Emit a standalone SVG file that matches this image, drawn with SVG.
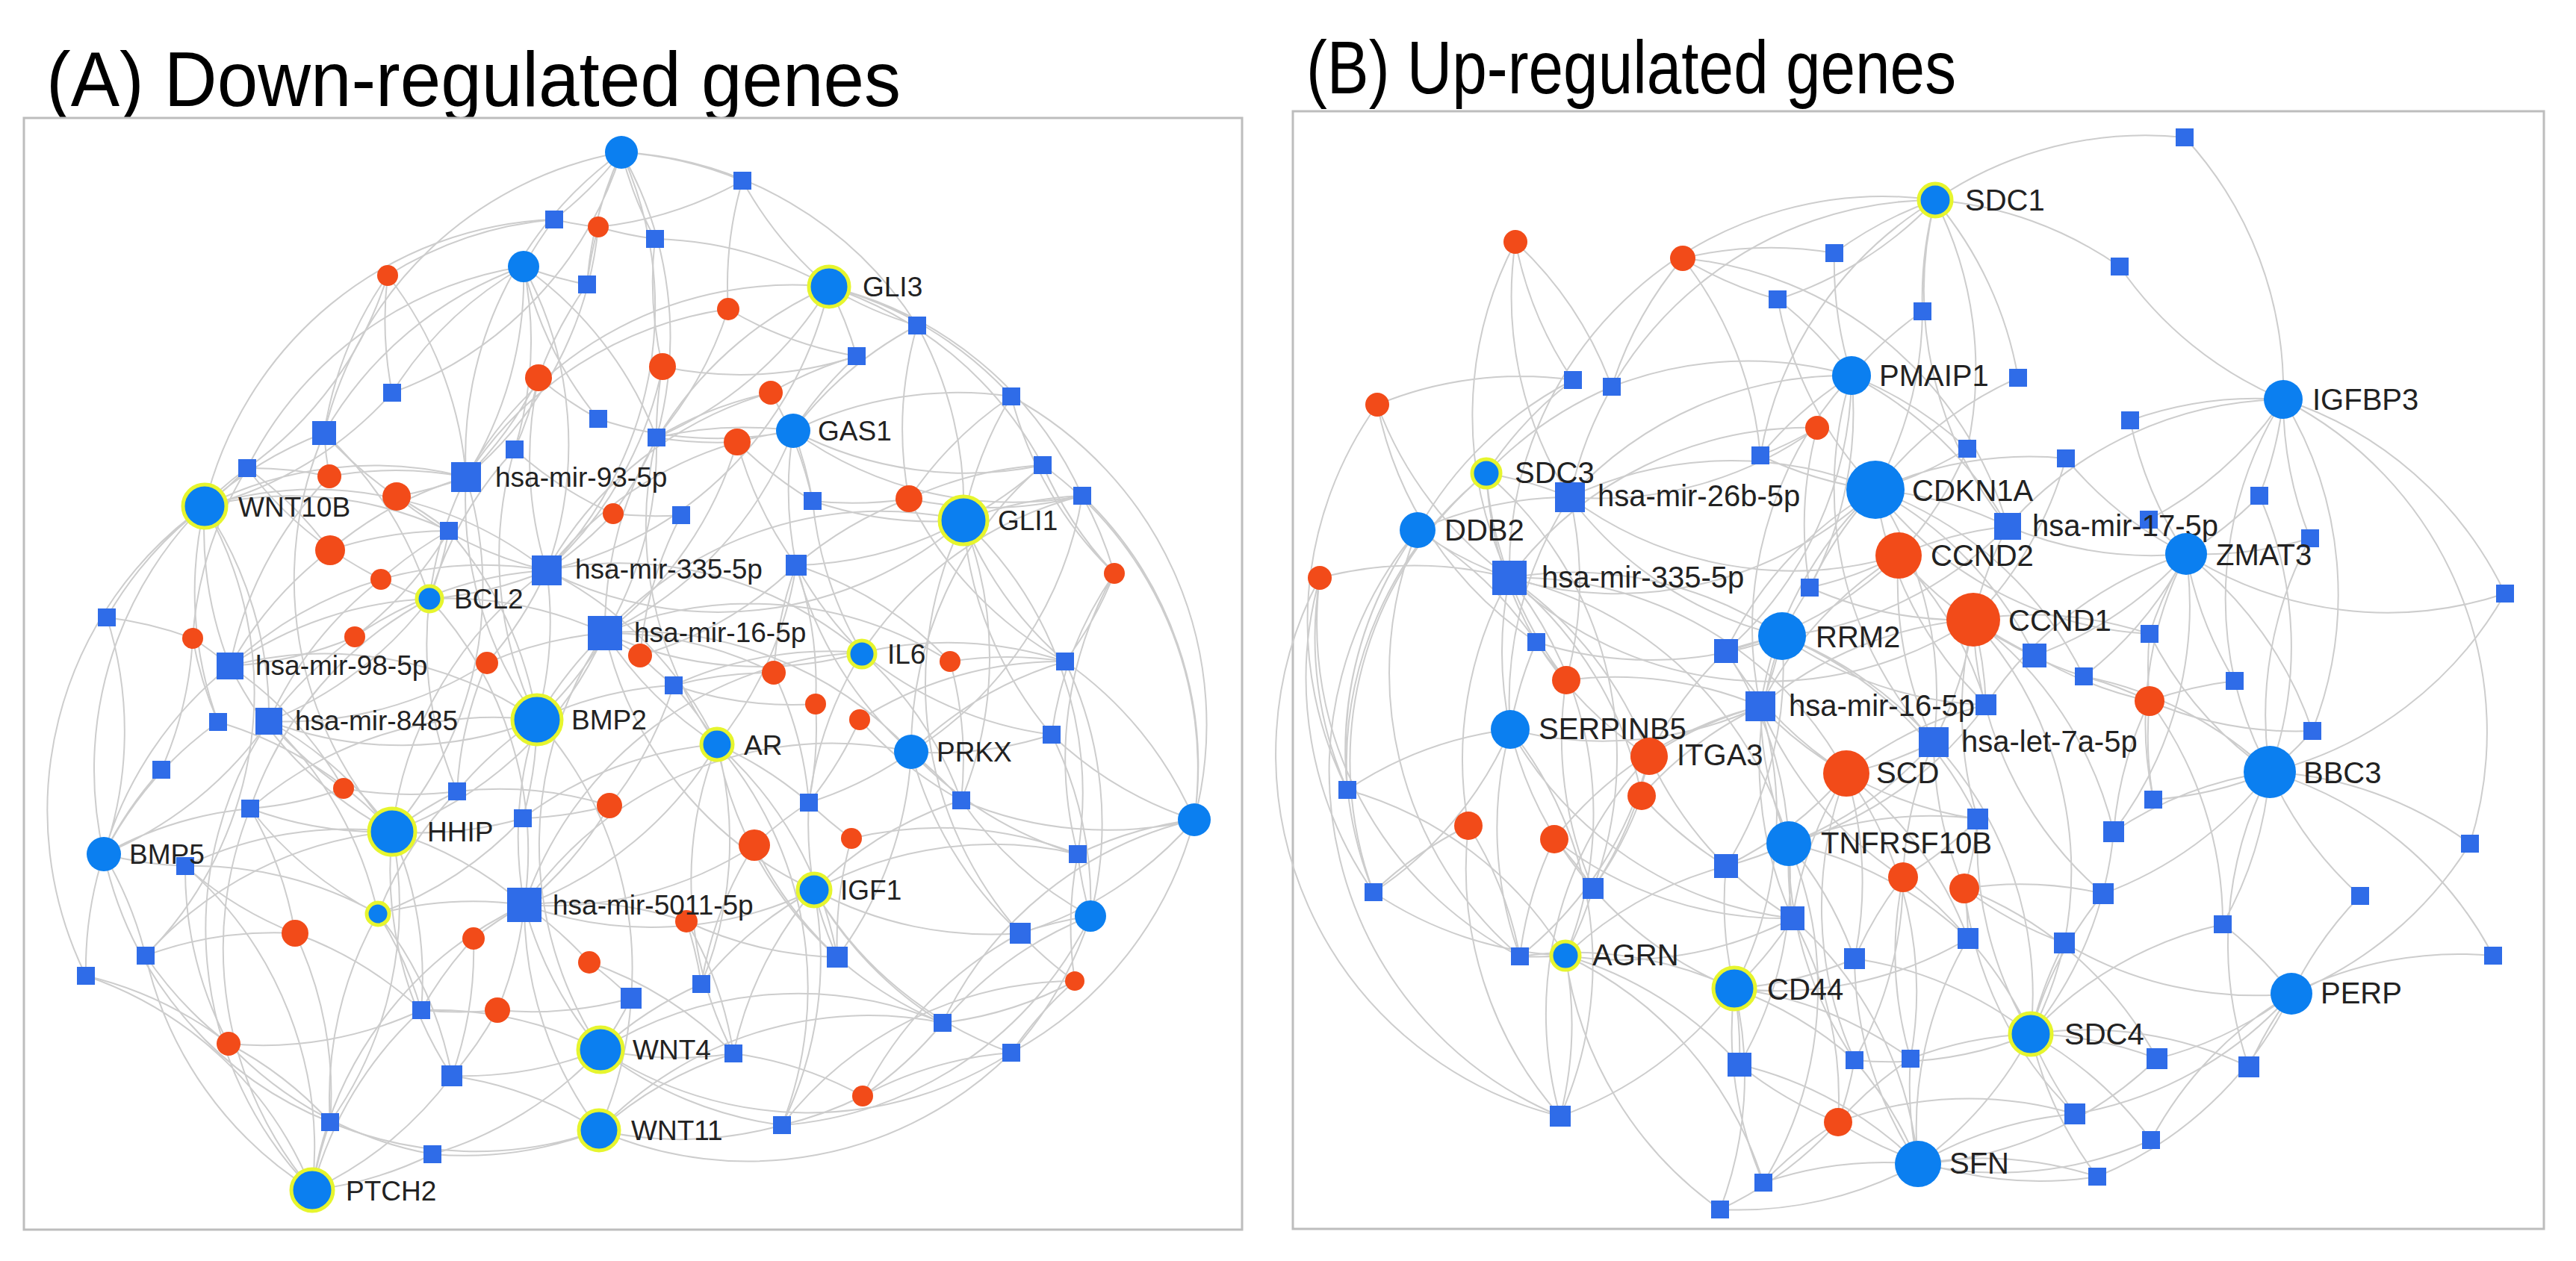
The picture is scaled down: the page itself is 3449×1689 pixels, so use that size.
<svg xmlns="http://www.w3.org/2000/svg" xmlns:xlink="http://www.w3.org/1999/xlink" width="3449" height="1689" viewBox="0 0 3449 1689">
<style>
.tt{font-family:"Liberation Sans",Arial,sans-serif;fill:#000}
.la{font-family:"Liberation Sans",Arial,sans-serif;font-size:37px;fill:#222}
.lb{font-family:"Liberation Sans",Arial,sans-serif;font-size:40px;fill:#222}
.box{fill:#fff;stroke:#bdbdbd;stroke-width:3}
.ed path{fill:none;stroke:#cdcdcd;stroke-width:2}
.bc{fill:#0b7ff0}
.rc{fill:#f24b19}
.yr{stroke:#e6f52e;stroke-width:5}
</style>
<defs>
<rect id="q24" x="-12" y="-12" width="24" height="24" fill="#2f6ce8"/>
<rect id="q28" x="-14" y="-14" width="28" height="28" fill="#2f6ce8"/>
<rect id="q32" x="-16" y="-16" width="32" height="32" fill="#2f6ce8"/>
<rect id="q36" x="-18" y="-18" width="36" height="36" fill="#2f6ce8"/>
<rect id="q40" x="-20" y="-20" width="40" height="40" fill="#2f6ce8"/>
<rect id="q46" x="-23" y="-23" width="46" height="46" fill="#2f6ce8"/>
</defs>
<rect width="3449" height="1689" fill="#fff"/>
<text class="tt" x="62" y="142" font-size="104" textLength="1144" lengthAdjust="spacingAndGlyphs">(A) Down-regulated genes</text>
<text class="tt" x="1749" y="125" font-size="100" textLength="870" lengthAdjust="spacingAndGlyphs">(B) Up-regulated genes</text>
<rect class="box" x="32" y="158" width="1631" height="1489"/>
<rect class="box" x="1731" y="149" width="1675" height="1497"/>

<g id="edges-A" class="ed">
<path d="M1110 384A500 500 0 0 1 994 242M1110 384A500 500 0 0 0 1228 436M1110 384A500 500 0 0 1 1147 477M1110 384A500 500 0 0 0 624 639M1110 384A500 500 0 0 1 732 764M1110 384A500 500 0 0 0 877 320M1110 384A500 500 0 0 1 1354 531M1110 384A500 500 0 0 0 810 848M1110 384A500 500 0 0 1 879 586M1110 384A500 500 0 0 1 1396 623M1110 384A500 500 0 0 1 1449 664"/>
<path d="M1062 577A500 500 0 0 1 1147 477M1062 577A500 500 0 0 0 879 586M1062 577A500 500 0 0 1 1088 671M1062 577A500 500 0 0 0 732 764M1062 577A500 500 0 0 1 810 848M1062 577A500 500 0 0 0 1066 757M1062 577A500 500 0 0 1 1228 436M1062 577A500 500 0 0 0 1449 664M1062 577A500 500 0 0 1 801 561M1062 577A500 500 0 0 1 1354 531M1062 577A500 500 0 0 0 1396 623"/>
<path d="M274 678A500 500 0 0 1 624 639M274 678A500 500 0 0 0 308 892M274 678A500 500 0 0 1 360 966M274 678A500 500 0 0 0 331 627M274 678A500 500 0 0 1 434 580M274 678A500 500 0 0 0 143 827M274 678A500 500 0 0 1 732 764M274 678A500 500 0 0 0 525 526M274 678A500 500 0 0 1 601 711M274 678A500 500 0 0 0 115 1307M274 678A500 500 0 0 1 195 1280M274 678A500 500 0 0 1 742 294M274 678A500 500 0 0 0 292 967"/>
<path d="M1290 697A500 500 0 0 1 1354 531M1290 697A500 500 0 0 0 1396 623M1290 697A500 500 0 0 1 1449 664M1290 697A500 500 0 0 0 1228 436M1290 697A500 500 0 0 1 1066 757M1290 697A500 500 0 0 0 810 848M1290 697A500 500 0 0 1 732 764M1290 697A500 500 0 0 0 1426 886M1290 697A500 500 0 0 1 1287 1072M1290 697A500 500 0 0 0 1408 984M1290 697A500 500 0 0 1 1088 671M1290 697A500 500 0 0 1 1443 1144M1290 697A500 500 0 0 0 1366 1250"/>
<path d="M575 802A500 500 0 0 1 624 639M575 802A500 500 0 0 0 732 764M575 802A500 500 0 0 1 810 848M575 802A500 500 0 0 0 308 892M575 802A500 500 0 0 1 360 966M575 802A500 500 0 0 0 601 711M575 802A500 500 0 0 1 689 602M575 802A500 500 0 0 0 434 580M575 802A500 500 0 0 1 702 1212M575 802A500 500 0 0 0 612 1060M575 802A500 500 0 0 1 331 627M575 802A500 500 0 0 0 335 1083"/>
<path d="M1154 874A500 500 0 0 1 810 848M1154 874A500 500 0 0 0 732 764M1154 874A500 500 0 0 1 1066 757M1154 874A500 500 0 0 0 902 918M1154 874A500 500 0 0 1 1426 886M1154 874A500 500 0 0 0 1083 1075M1154 874A500 500 0 0 1 1287 1072M1154 874A500 500 0 0 0 702 1212M1154 874A500 500 0 0 1 1088 671M1154 874A500 500 0 0 1 1449 664M1154 874A500 500 0 0 0 1408 984"/>
<path d="M719 964A500 500 0 0 1 810 848M719 964A500 500 0 0 0 732 764M719 964A500 500 0 0 1 624 639M719 964A500 500 0 0 0 308 892M719 964A500 500 0 0 1 360 966M719 964A500 500 0 0 0 702 1212M719 964A500 500 0 0 1 902 918M719 964A500 500 0 0 0 612 1060M719 964A500 500 0 0 1 700 1096M719 964A500 500 0 0 0 601 711M719 964A500 500 0 0 1 689 602M719 964A500 500 0 0 0 879 586M719 964A500 500 0 0 1 845 1337M719 964A500 500 0 0 0 335 1083"/>
<path d="M960 997A500 500 0 0 1 810 848M960 997A500 500 0 0 0 732 764M960 997A500 500 0 0 1 702 1212M960 997A500 500 0 0 0 902 918M960 997A500 500 0 0 1 1083 1075M960 997A500 500 0 0 0 1066 757M960 997A500 500 0 0 1 939 1318M960 997A500 500 0 0 0 982 1411M960 997A500 500 0 0 1 1121 1282M960 997A500 500 0 0 0 700 1096M960 997A500 500 0 0 1 879 586M960 997A500 500 0 0 0 1262 1370M960 997A500 500 0 0 1 1047 1507"/>
<path d="M1220 1007A500 500 0 0 1 1426 886M1220 1007A500 500 0 0 0 1408 984M1220 1007A500 500 0 0 1 1287 1072M1220 1007A500 500 0 0 0 1443 1144M1220 1007A500 500 0 0 1 1083 1075M1220 1007A500 500 0 0 0 810 848M1220 1007A500 500 0 0 1 1066 757M1220 1007A500 500 0 0 0 1366 1250M1220 1007A500 500 0 0 1 1121 1282M1220 1007A500 500 0 0 0 702 1212M1220 1007A500 500 0 0 1 1396 623M1220 1007A500 500 0 0 0 1449 664"/>
<path d="M525 1114A500 500 0 0 1 702 1212M525 1114A500 500 0 0 0 360 966M525 1114A500 500 0 0 1 308 892M525 1114A500 500 0 0 0 810 848M525 1114A500 500 0 0 1 732 764M525 1114A500 500 0 0 0 624 639M525 1114A500 500 0 0 1 335 1083M525 1114A500 500 0 0 0 700 1096M525 1114A500 500 0 0 1 612 1060M525 1114A500 500 0 0 0 248 1160M525 1114A500 500 0 0 1 564 1353M525 1114A500 500 0 0 0 605 1441M525 1114A500 500 0 0 1 434 580M525 1114A500 500 0 0 0 292 967M525 1114A500 500 0 0 1 442 1503M525 1114A500 500 0 0 0 195 1280"/>
<path d="M139 1144A500 500 0 0 1 216 1031M139 1144A500 500 0 0 0 143 827M139 1144A500 500 0 0 1 292 967M139 1144A500 500 0 0 0 248 1160M139 1144A500 500 0 0 1 195 1280M139 1144A500 500 0 0 0 115 1307M139 1144A500 500 0 0 1 308 892M139 1144A500 500 0 0 0 360 966M139 1144A500 500 0 0 1 335 1083M139 1144A500 500 0 0 0 442 1503M139 1144A500 500 0 0 1 331 627"/>
<path d="M1090 1192A500 500 0 0 1 702 1212M1090 1192A500 500 0 0 0 1121 1282M1090 1192A500 500 0 0 1 1083 1075M1090 1192A500 500 0 0 0 939 1318M1090 1192A500 500 0 0 1 1047 1507M1090 1192A500 500 0 0 0 982 1411M1090 1192A500 500 0 0 1 810 848M1090 1192A500 500 0 0 0 1366 1250M1090 1192A500 500 0 0 1 1287 1072M1090 1192A500 500 0 0 0 1262 1370M1090 1192A500 500 0 0 1 1443 1144M1090 1192A500 500 0 0 0 1354 1410"/>
<path d="M804 1406A500 500 0 0 1 702 1212M804 1406A500 500 0 0 0 845 1337M804 1406A500 500 0 0 1 605 1441M804 1406A500 500 0 0 0 982 1411M804 1406A500 500 0 0 1 939 1318M804 1406A500 500 0 0 0 1047 1507M804 1406A500 500 0 0 1 579 1546M804 1406A500 500 0 0 0 564 1353M804 1406A500 500 0 0 1 810 848M804 1406A500 500 0 0 0 1354 1410M804 1406A500 500 0 0 1 1262 1370"/>
<path d="M802 1514A500 500 0 0 1 442 1503M802 1514A500 500 0 0 0 1047 1507M802 1514A500 500 0 0 1 579 1546M802 1514A500 500 0 0 0 605 1441M802 1514A500 500 0 0 1 702 1212M802 1514A500 500 0 0 0 1354 1410M802 1514A500 500 0 0 1 1262 1370M802 1514A500 500 0 0 0 845 1337M802 1514A500 500 0 0 1 982 1411"/>
<path d="M418 1594A500 500 0 0 1 442 1503M418 1594A500 500 0 0 0 579 1546M418 1594A500 500 0 0 1 195 1280M418 1594A500 500 0 0 0 115 1307M418 1594A500 500 0 0 1 702 1212M418 1594A500 500 0 0 0 605 1441M418 1594A500 500 0 0 1 564 1353M418 1594A500 500 0 0 0 248 1160M418 1594A500 500 0 0 1 360 966M418 1594A500 500 0 0 1 335 1083"/>
<path d="M832 204A500 500 0 0 1 742 294M832 204A500 500 0 0 0 877 320M832 204A500 500 0 0 1 994 242M832 204A500 500 0 0 0 624 639M832 204A500 500 0 0 1 732 764M832 204A500 500 0 0 0 786 381M832 204A500 500 0 0 1 525 526M832 204A500 500 0 0 0 434 580M832 204A500 500 0 0 1 1228 436M832 204A500 500 0 0 1 879 586"/>
<path d="M701 357A500 500 0 0 1 742 294M701 357A500 500 0 0 0 786 381M701 357A500 500 0 0 1 624 639M701 357A500 500 0 0 0 525 526M701 357A500 500 0 0 1 689 602M701 357A500 500 0 0 0 801 561M701 357A500 500 0 0 1 879 586M701 357A500 500 0 0 0 331 627M701 357A500 500 0 0 1 732 764M701 357A500 500 0 0 0 434 580"/>
<path d="M1599 1098A500 500 0 0 0 1396 623M1599 1098A500 500 0 0 0 1449 664M1599 1098A500 500 0 0 1 1408 984M1599 1098A500 500 0 0 0 1443 1144M1599 1098A500 500 0 0 1 1366 1250M1599 1098A500 500 0 0 0 1426 886M1599 1098A500 500 0 0 0 1354 531M1599 1098A500 500 0 0 1 1287 1072M1599 1098A500 500 0 0 1 1354 1410M1599 1098A500 500 0 0 0 1262 1370"/>
<path d="M1460 1227A500 500 0 0 1 1443 1144M1460 1227A500 500 0 0 0 1366 1250M1460 1227A500 500 0 0 1 1354 1410M1460 1227A500 500 0 0 0 1262 1370M1460 1227A500 500 0 0 1 1287 1072M1460 1227A500 500 0 0 0 1426 886M1460 1227A500 500 0 0 0 1408 984M1460 1227A500 500 0 0 1 1047 1507"/>
<path d="M506 1224A500 500 0 0 1 702 1212M506 1224A500 500 0 0 0 700 1096M506 1224A500 500 0 0 1 564 1353M506 1224A500 500 0 0 0 248 1160M506 1224A500 500 0 0 1 335 1083M506 1224A500 500 0 0 0 360 966M506 1224A500 500 0 0 1 612 1060M506 1224A500 500 0 0 0 442 1503M506 1224A500 500 0 0 1 605 1441"/>
<path d="M801 304A500 500 0 0 1 742 294M801 304A500 500 0 0 0 877 320M801 304A500 500 0 0 1 624 639M801 304A500 500 0 0 0 786 381M801 304A500 500 0 0 0 994 242M519 369A500 500 0 0 1 742 294M519 369A500 500 0 0 0 525 526M519 369A500 500 0 0 1 624 639M519 369A500 500 0 0 0 434 580M519 369A500 500 0 0 1 331 627M721 506A500 500 0 0 1 786 381M721 506A500 500 0 0 0 801 561M721 506A500 500 0 0 1 624 639M721 506A500 500 0 0 0 732 764M721 506A500 500 0 0 1 689 602M887 491A500 500 0 0 1 877 320M887 491A500 500 0 0 0 1147 477M887 491A500 500 0 0 1 732 764M887 491A500 500 0 0 0 879 586M975 414A500 500 0 0 1 994 242M975 414A500 500 0 0 0 1147 477M975 414A500 500 0 0 1 879 586M975 414A500 500 0 0 0 624 639"/>
<path d="M1032 526A500 500 0 0 1 1147 477M1032 526A500 500 0 0 0 879 586M1032 526A500 500 0 0 1 1088 671M1032 526A500 500 0 0 0 732 764M987 592A500 500 0 0 1 879 586M987 592A500 500 0 0 0 1088 671M987 592A500 500 0 0 1 810 848M987 592A500 500 0 0 0 1066 757M441 638A500 500 0 0 1 434 580M441 638A500 500 0 0 0 331 627M441 638A500 500 0 0 1 624 639M441 638A500 500 0 0 0 308 892M531 665A500 500 0 0 1 434 580M531 665A500 500 0 0 0 624 639M531 665A500 500 0 0 1 601 711M531 665A500 500 0 0 0 732 764"/>
<path d="M1217 668A500 500 0 0 1 1088 671M1217 668A500 500 0 0 0 1449 664M1217 668A500 500 0 0 1 1396 623M1217 668A500 500 0 0 0 1066 757M1217 668A500 500 0 0 1 1354 531M1217 668A500 500 0 0 0 1426 886M1217 668A500 500 0 0 1 1228 436M821 688A500 500 0 0 1 689 602M821 688A500 500 0 0 0 912 690M821 688A500 500 0 0 1 732 764M821 688A500 500 0 0 0 879 586M442 737A500 500 0 0 1 624 639M442 737A500 500 0 0 0 308 892M442 737A500 500 0 0 1 601 711M442 737A500 500 0 0 0 331 627M510 776A500 500 0 0 1 732 764M510 776A500 500 0 0 0 308 892M510 776A500 500 0 0 1 601 711M510 776A500 500 0 0 0 360 966"/>
<path d="M1492 768A500 500 0 0 1 1396 623M1492 768A500 500 0 0 0 1449 664M1492 768A500 500 0 0 1 1426 886M1492 768A500 500 0 0 0 1408 984M1492 768A500 500 0 0 1 1354 531M1492 768A500 500 0 0 0 1443 1144M258 855A500 500 0 0 1 308 892M258 855A500 500 0 0 0 143 827M258 855A500 500 0 0 1 331 627M258 855A500 500 0 0 0 292 967M258 855A500 500 0 0 1 216 1031M475 853A500 500 0 0 1 308 892M475 853A500 500 0 0 0 360 966M475 853A500 500 0 0 1 732 764M475 853A500 500 0 0 0 601 711M652 888A500 500 0 0 1 810 848M652 888A500 500 0 0 0 732 764M652 888A500 500 0 0 1 360 966M652 888A500 500 0 0 0 612 1060"/>
<path d="M857 878A500 500 0 0 1 810 848M857 878A500 500 0 0 0 902 918M857 878A500 500 0 0 1 912 690M857 878A500 500 0 0 0 1066 757M1272 886A500 500 0 0 1 1426 886M1272 886A500 500 0 0 0 1066 757M1272 886A500 500 0 0 1 1287 1072M1272 886A500 500 0 0 0 810 848M1036 901A500 500 0 0 1 1066 757M1036 901A500 500 0 0 0 902 918M1036 901A500 500 0 0 1 1083 1075M1036 901A500 500 0 0 0 810 848M1092 943A500 500 0 0 1 1083 1075M1092 943A500 500 0 0 0 1066 757M1092 943A500 500 0 0 1 902 918M1151 964A500 500 0 0 1 1083 1075M1151 964A500 500 0 0 0 1287 1072M1151 964A500 500 0 0 1 1426 886"/>
<path d="M460 1056A500 500 0 0 1 360 966M460 1056A500 500 0 0 0 612 1060M460 1056A500 500 0 0 1 335 1083M460 1056A500 500 0 0 0 308 892M816 1079A500 500 0 0 1 700 1096M816 1079A500 500 0 0 0 902 918M816 1079A500 500 0 0 1 702 1212M816 1079A500 500 0 0 0 612 1060M1010 1132A500 500 0 0 1 1083 1075M1010 1132A500 500 0 0 0 1121 1282M1010 1132A500 500 0 0 1 702 1212M1010 1132A500 500 0 0 0 939 1318M1140 1123A500 500 0 0 1 1083 1075M1140 1123A500 500 0 0 0 1121 1282M1140 1123A500 500 0 0 1 1443 1144"/>
<path d="M395 1250A500 500 0 0 1 248 1160M395 1250A500 500 0 0 0 335 1083M395 1250A500 500 0 0 1 564 1353M395 1250A500 500 0 0 0 195 1280M395 1250A500 500 0 0 1 442 1503M634 1257A500 500 0 0 1 702 1212M634 1257A500 500 0 0 0 564 1353M634 1257A500 500 0 0 1 605 1441M919 1234A500 500 0 0 1 939 1318M919 1234A500 500 0 0 0 702 1212M919 1234A500 500 0 0 1 982 1411M919 1234A500 500 0 0 0 1121 1282M789 1289A500 500 0 0 1 845 1337M789 1289A500 500 0 0 0 702 1212M789 1289A500 500 0 0 1 982 1411"/>
<path d="M666 1353A500 500 0 0 1 564 1353M666 1353A500 500 0 0 0 845 1337M666 1353A500 500 0 0 1 605 1441M666 1353A500 500 0 0 0 702 1212M1439 1314A500 500 0 0 1 1366 1250M1439 1314A500 500 0 0 0 1354 1410M1439 1314A500 500 0 0 1 1262 1370M1439 1314A500 500 0 0 1 1443 1144M1439 1314A500 500 0 0 0 1047 1507M306 1398A500 500 0 0 1 195 1280M306 1398A500 500 0 0 0 115 1307M306 1398A500 500 0 0 1 442 1503M306 1398A500 500 0 0 0 564 1353M306 1398A500 500 0 0 1 248 1160M306 1398A500 500 0 0 0 579 1546M1155 1468A500 500 0 0 1 1047 1507M1155 1468A500 500 0 0 0 1262 1370M1155 1468A500 500 0 0 1 1354 1410M1155 1468A500 500 0 0 0 982 1411M1155 1468A500 500 0 0 1 1366 1250"/>
</g>

<g id="edges-B" class="ed">
<path d="M2591 268A500 500 0 0 1 2925 184M2591 268A500 500 0 0 0 2456 339M2591 268A500 500 0 0 1 2838 357M2591 268A500 500 0 0 0 2574 417M2591 268A500 500 0 0 1 2380 401M2591 268A500 500 0 0 0 2357 610M2591 268A500 500 0 0 1 2634 601M2591 268A500 500 0 0 0 2688 705M2591 268A500 500 0 0 1 2702 506M2591 268A500 500 0 0 0 2102 666M2591 268A500 500 0 0 0 2021 774"/>
<path d="M2479 503A500 500 0 0 1 2456 339M2479 503A500 500 0 0 0 2380 401M2479 503A500 500 0 0 1 2574 417M2479 503A500 500 0 0 0 2357 610M2479 503A500 500 0 0 1 2634 601M2479 503A500 500 0 0 0 2102 666M2479 503A500 500 0 0 1 2688 705M2479 503A500 500 0 0 0 2357 946M2479 503A500 500 0 0 1 2423 787M2479 503A500 500 0 0 0 2158 518M2479 503A500 500 0 0 1 2311 872M2479 503A500 500 0 0 0 2589 994"/>
<path d="M3057 535A500 500 0 0 0 2925 184M3057 535A500 500 0 0 1 2838 357M3057 535A500 500 0 0 0 2852 563M3057 535A500 500 0 0 1 3025 664M3057 535A500 500 0 0 0 3093 721M3057 535A500 500 0 0 1 3354 795M3057 535A500 500 0 0 0 2688 705M3057 535A500 500 0 0 1 2877 696M3057 535A500 500 0 0 1 3096 979M3057 535A500 500 0 0 0 2992 912M3057 535A500 500 0 0 1 3307 1130"/>
<path d="M1990 634A500 500 0 0 1 2102 666M1990 634A500 500 0 0 0 2021 774M1990 634A500 500 0 0 1 2106 509M1990 634A500 500 0 0 0 2057 860M1990 634A500 500 0 0 1 2158 518M1990 634A500 500 0 0 0 1804 1058M1990 634A500 500 0 0 0 1839 1195M1990 634A500 500 0 0 1 2133 1190"/>
<path d="M2511 656A500 500 0 0 1 2357 610M2511 656A500 500 0 0 0 2634 601M2511 656A500 500 0 0 1 2766 614M2511 656A500 500 0 0 0 2423 787M2511 656A500 500 0 0 1 2688 705M2511 656A500 500 0 0 0 2102 666M2511 656A500 500 0 0 1 2021 774M2511 656A500 500 0 0 0 2357 946M2511 656A500 500 0 0 1 2589 994M2511 656A500 500 0 0 0 2311 872M2511 656A500 500 0 0 1 2724 878M2511 656A500 500 0 0 0 2574 417M2511 656A500 500 0 0 1 2380 401M2511 656A500 500 0 0 0 2659 944M2511 656A500 500 0 0 1 2702 506M2511 656A500 500 0 0 1 2790 906M2511 656A500 500 0 0 0 2878 849"/>
<path d="M1898 710A500 500 0 0 1 2102 666M1898 710A500 500 0 0 0 2021 774M1898 710A500 500 0 0 1 2057 860M1898 710A500 500 0 0 0 1804 1058M1898 710A500 500 0 0 1 2106 509M1898 710A500 500 0 0 0 1839 1195M1898 710A500 500 0 0 0 2035 1281M1898 710A500 500 0 0 0 2089 1495"/>
<path d="M2927 742A500 500 0 0 1 2766 614M2927 742A500 500 0 0 0 3025 664M2927 742A500 500 0 0 1 2877 696M2927 742A500 500 0 0 0 3093 721M2927 742A500 500 0 0 1 2852 563M2927 742A500 500 0 0 0 2878 849M2927 742A500 500 0 0 1 2790 906M2927 742A500 500 0 0 0 2992 912M2927 742A500 500 0 0 1 2688 705M2927 742A500 500 0 0 0 3354 795M2927 742A500 500 0 0 1 3096 979M2927 742A500 500 0 0 0 2883 1071M2927 742A500 500 0 0 1 2724 878M2927 742A500 500 0 0 0 2659 944M2927 742A500 500 0 0 1 2830 1114"/>
<path d="M2386 852A500 500 0 0 1 2423 787M2386 852A500 500 0 0 0 2311 872M2386 852A500 500 0 0 1 2357 946M2386 852A500 500 0 0 0 2021 774M2386 852A500 500 0 0 1 2102 666M2386 852A500 500 0 0 0 2688 705M2386 852A500 500 0 0 1 2589 994M2386 852A500 500 0 0 0 2659 944M2386 852A500 500 0 0 1 2057 860M2386 852A500 500 0 0 1 2311 1160M2386 852A500 500 0 0 0 2400 1230M2386 852A500 500 0 0 1 2648 1097"/>
<path d="M2022 977A500 500 0 0 1 2021 774M2022 977A500 500 0 0 0 2357 946M2022 977A500 500 0 0 1 2057 860M2022 977A500 500 0 0 0 1804 1058M2022 977A500 500 0 0 1 1839 1195M2022 977A500 500 0 0 0 2133 1190M2022 977A500 500 0 0 1 2102 666M2022 977A500 500 0 0 0 2035 1281M2022 977A500 500 0 0 1 2089 1495M2022 977A500 500 0 0 0 2400 1230"/>
<path d="M3039 1034A500 500 0 0 1 2992 912M3039 1034A500 500 0 0 0 3096 979M3039 1034A500 500 0 0 1 2883 1071M3039 1034A500 500 0 0 0 2830 1114M3039 1034A500 500 0 0 1 3307 1130M3039 1034A500 500 0 0 0 3160 1200M3039 1034A500 500 0 0 1 2976 1238M3039 1034A500 500 0 0 0 3354 795M3039 1034A500 500 0 0 1 2878 849M3039 1034A500 500 0 0 0 2790 906M3039 1034A500 500 0 0 1 3338 1280M3039 1034A500 500 0 0 0 3011 1429M3039 1034A500 500 0 0 1 2816 1197M3039 1034A500 500 0 0 0 3025 664M3039 1034A500 500 0 0 1 3093 721"/>
<path d="M2395 1130A500 500 0 0 1 2357 946M2395 1130A500 500 0 0 0 2589 994M2395 1130A500 500 0 0 1 2311 1160M2395 1130A500 500 0 0 0 2400 1230M2395 1130A500 500 0 0 1 2483 1284M2395 1130A500 500 0 0 0 2311 872M2395 1130A500 500 0 0 1 2648 1097M2395 1130A500 500 0 0 0 2021 774M2395 1130A500 500 0 0 1 2329 1426M2395 1130A500 500 0 0 0 2659 944M2395 1130A500 500 0 0 1 2635 1257M2395 1130A500 500 0 0 0 2483 1420M2395 1130A500 500 0 0 1 2361 1584"/>
<path d="M2096 1280A500 500 0 0 1 2035 1281M2096 1280A500 500 0 0 0 2133 1190M2096 1280A500 500 0 0 1 2089 1495M2096 1280A500 500 0 0 0 2021 774M2096 1280A500 500 0 0 1 2329 1426M2096 1280A500 500 0 0 0 2400 1230M2096 1280A500 500 0 0 1 2311 1160M2096 1280A500 500 0 0 0 1804 1058M2096 1280A500 500 0 0 1 1839 1195M2096 1280A500 500 0 0 0 2303 1620M2096 1280A500 500 0 0 1 2361 1584"/>
<path d="M2322 1324A500 500 0 0 1 2329 1426M2322 1324A500 500 0 0 0 2400 1230M2322 1324A500 500 0 0 1 2311 1160M2322 1324A500 500 0 0 0 2483 1284M2322 1324A500 500 0 0 1 2483 1420M2322 1324A500 500 0 0 0 2361 1584M2322 1324A500 500 0 0 1 2303 1620M2322 1324A500 500 0 0 0 2357 946M2322 1324A500 500 0 0 1 2089 1495M2322 1324A500 500 0 0 0 2035 1281M2322 1324A500 500 0 0 1 2133 1190M2322 1324A500 500 0 0 0 2635 1257M2322 1324A500 500 0 0 1 2558 1418"/>
<path d="M3068 1331A500 500 0 0 1 3160 1200M3068 1331A500 500 0 0 0 2976 1238M3068 1331A500 500 0 0 1 3338 1280M3068 1331A500 500 0 0 0 3011 1429M3068 1331A500 500 0 0 1 2888 1418M3068 1331A500 500 0 0 0 3307 1130M3068 1331A500 500 0 0 1 2764 1263M3068 1331A500 500 0 0 1 2778 1492M3068 1331A500 500 0 0 0 2880 1527M3068 1331A500 500 0 0 1 2808 1576"/>
<path d="M2719 1385A500 500 0 0 1 2764 1263M2719 1385A500 500 0 0 0 2635 1257M2719 1385A500 500 0 0 1 2888 1418M2719 1385A500 500 0 0 0 2778 1492M2719 1385A500 500 0 0 1 2880 1527M2719 1385A500 500 0 0 0 2558 1418M2719 1385A500 500 0 0 1 2483 1420M2719 1385A500 500 0 0 0 2483 1284M2719 1385A500 500 0 0 1 2816 1197M2719 1385A500 500 0 0 0 2589 994M2719 1385A500 500 0 0 1 3011 1429M2719 1385A500 500 0 0 1 2648 1097M2719 1385A500 500 0 0 0 2830 1114M2719 1385A500 500 0 0 1 2976 1238M2719 1385A500 500 0 0 0 2808 1576"/>
<path d="M2568 1559A500 500 0 0 1 2558 1418M2568 1559A500 500 0 0 0 2483 1420M2568 1559A500 500 0 0 1 2778 1492M2568 1559A500 500 0 0 0 2880 1527M2568 1559A500 500 0 0 1 2808 1576M2568 1559A500 500 0 0 0 2361 1584M2568 1559A500 500 0 0 1 2303 1620M2568 1559A500 500 0 0 0 2329 1426M2568 1559A500 500 0 0 1 2635 1257M2568 1559A500 500 0 0 0 2888 1418M2568 1559A500 500 0 0 0 2764 1263M2568 1559A500 500 0 0 1 2483 1284M2568 1559A500 500 0 0 0 2400 1230"/>
<path d="M2542 744A500 500 0 0 1 2688 705M2542 744A500 500 0 0 0 2357 946M2542 744A500 500 0 0 1 2102 666M2542 744A500 500 0 0 0 2589 994M2542 744A500 500 0 0 1 2423 787M2542 744A500 500 0 0 0 2634 601M2542 744A500 500 0 0 1 2311 872M2542 744A500 500 0 0 0 2724 878M2542 744A500 500 0 0 1 2659 944"/>
<path d="M2642 830A500 500 0 0 1 2688 705M2642 830A500 500 0 0 0 2357 946M2642 830A500 500 0 0 1 2589 994M2642 830A500 500 0 0 0 2724 878M2642 830A500 500 0 0 1 2878 849M2642 830A500 500 0 0 0 2790 906M2642 830A500 500 0 0 1 2659 944M2642 830A500 500 0 0 0 2648 1097M2642 830A500 500 0 0 1 2021 774M2642 830A500 500 0 0 0 2766 614M2642 830A500 500 0 0 1 2423 787M2642 830A500 500 0 0 1 2830 1114M2642 830A500 500 0 0 0 2816 1197M2642 830A500 500 0 0 1 2764 1263"/>
<path d="M2208 1013A500 500 0 0 1 2357 946M2208 1013A500 500 0 0 0 2021 774M2208 1013A500 500 0 0 1 2311 872M2208 1013A500 500 0 0 0 2311 1160M2208 1013A500 500 0 0 1 2133 1190M2208 1013A500 500 0 0 0 2400 1230M2208 1013A500 500 0 0 1 2057 860M2208 1013A500 500 0 0 1 2035 1281M2208 1013A500 500 0 0 0 2089 1495"/>
<path d="M2472 1036A500 500 0 0 1 2357 946M2472 1036A500 500 0 0 0 2589 994M2472 1036A500 500 0 0 1 2659 944M2472 1036A500 500 0 0 0 2648 1097M2472 1036A500 500 0 0 1 2311 1160M2472 1036A500 500 0 0 0 2400 1230M2472 1036A500 500 0 0 1 2483 1284M2472 1036A500 500 0 0 0 2021 774M2472 1036A500 500 0 0 1 2311 872M2472 1036A500 500 0 0 1 2635 1257M2472 1036A500 500 0 0 0 2483 1420M2472 1036A500 500 0 0 1 2558 1418"/>
<path d="M2029 324A500 500 0 0 0 2106 509M2029 324A500 500 0 0 0 2102 666M2029 324A500 500 0 0 1 2158 518M2029 324A500 500 0 0 0 2021 774M2253 346A500 500 0 0 1 2456 339M2253 346A500 500 0 0 0 2380 401M2253 346A500 500 0 0 0 2158 518M2253 346A500 500 0 0 1 2688 705M2253 346A500 500 0 0 1 2357 610M1844 542A500 500 0 0 0 2021 774M1844 542A500 500 0 0 0 2057 860M1844 542A500 500 0 0 0 1804 1058M1844 542A500 500 0 0 1 2106 509M2433 573A500 500 0 0 1 2357 610M2433 573A500 500 0 0 0 2423 787M2433 573A500 500 0 0 1 2102 666M2433 573A500 500 0 0 0 2021 774M1767 774A500 500 0 0 1 2021 774M1767 774A500 500 0 0 0 1804 1058M1767 774A500 500 0 0 0 1839 1195M1767 774A500 500 0 0 0 2035 1281M1767 774A500 500 0 0 0 2089 1495"/>
<path d="M2097 911A500 500 0 0 1 2021 774M2097 911A500 500 0 0 0 2102 666M2097 911A500 500 0 0 1 2057 860M2097 911A500 500 0 0 0 2133 1190M2097 911A500 500 0 0 1 2357 946M2198 1066A500 500 0 0 1 2357 946M2198 1066A500 500 0 0 0 2311 1160M2198 1066A500 500 0 0 1 2133 1190M2198 1066A500 500 0 0 0 2021 774M1966 1106A500 500 0 0 1 2035 1281M1966 1106A500 500 0 0 0 1839 1195M1966 1106A500 500 0 0 1 2021 774M1966 1106A500 500 0 0 0 2089 1495M2081 1124A500 500 0 0 1 2133 1190M2081 1124A500 500 0 0 0 2035 1281M2081 1124A500 500 0 0 1 2357 946M2081 1124A500 500 0 0 0 2400 1230"/>
<path d="M2548 1175A500 500 0 0 1 2589 994M2548 1175A500 500 0 0 0 2648 1097M2548 1175A500 500 0 0 1 2635 1257M2548 1175A500 500 0 0 0 2483 1284M2548 1175A500 500 0 0 1 2357 946M2548 1175A500 500 0 0 1 2483 1420M2548 1175A500 500 0 0 0 2558 1418M2630 1190A500 500 0 0 1 2589 994M2630 1190A500 500 0 0 0 2648 1097M2630 1190A500 500 0 0 1 2635 1257M2630 1190A500 500 0 0 0 2764 1263M2630 1190A500 500 0 0 1 2816 1197M2630 1190A500 500 0 0 1 2888 1418M2630 1190A500 500 0 0 0 2778 1492M2878 939A500 500 0 0 1 2878 849M2878 939A500 500 0 0 0 2790 906M2878 939A500 500 0 0 1 2992 912M2878 939A500 500 0 0 0 2883 1071M2878 939A500 500 0 0 1 2724 878M2878 939A500 500 0 0 0 2830 1114M2878 939A500 500 0 0 1 2976 1238M2878 939A500 500 0 0 0 3096 979"/>
<path d="M2461 1503A500 500 0 0 1 2329 1426M2461 1503A500 500 0 0 0 2483 1420M2461 1503A500 500 0 0 1 2558 1418M2461 1503A500 500 0 0 0 2361 1584M2461 1503A500 500 0 0 1 2778 1492M2461 1503A500 500 0 0 0 2400 1230M2461 1503A500 500 0 0 1 2303 1620M2461 1503A500 500 0 0 0 2808 1576"/>
</g>

<g id="nodes-A">
<g id="A-a1"><use href="#q24" x="994" y="242"/></g>
<g id="A-a2"><use href="#q24" x="742" y="294"/></g>
<g id="A-a3"><use href="#q24" x="877" y="320"/></g>
<g id="A-a4"><use href="#q24" x="786" y="381"/></g>
<g id="A-a5"><use href="#q24" x="1228" y="436"/></g>
<g id="A-a6"><use href="#q24" x="1147" y="477"/></g>
<g id="A-a7"><use href="#q24" x="525" y="526"/></g>
<g id="A-a8"><use href="#q24" x="801" y="561"/></g>
<g id="A-a9"><use href="#q32" x="434" y="580"/></g>
<g id="A-a10"><use href="#q24" x="689" y="602"/></g>
<g id="A-a11"><use href="#q24" x="1354" y="531"/></g>
<g id="A-a12"><use href="#q24" x="331" y="627"/></g>
<g id="A-a13"><use href="#q24" x="879" y="586"/></g>
<g id="A-a14"><use href="#q24" x="1088" y="671"/></g>
<g id="A-a15"><use href="#q24" x="1396" y="623"/></g>
<g id="A-a16"><use href="#q24" x="1449" y="664"/></g>
<g id="A-a17"><use href="#q24" x="601" y="711"/></g>
<g id="A-a18"><use href="#q24" x="912" y="690"/></g>
<g id="A-a19"><use href="#q28" x="1066" y="757"/></g>
<g id="A-a20"><use href="#q24" x="143" y="827"/></g>
<g id="A-a21"><use href="#q24" x="902" y="918"/></g>
<g id="A-a22"><use href="#q24" x="1426" y="886"/></g>
<g id="A-a23"><use href="#q24" x="292" y="967"/></g>
<g id="A-a24"><use href="#q24" x="1408" y="984"/></g>
<g id="A-a25"><use href="#q24" x="216" y="1031"/></g>
<g id="A-a26"><use href="#q24" x="612" y="1060"/></g>
<g id="A-a27"><use href="#q24" x="1083" y="1075"/></g>
<g id="A-a28"><use href="#q24" x="1287" y="1072"/></g>
<g id="A-a29"><use href="#q24" x="335" y="1083"/></g>
<g id="A-a30"><use href="#q24" x="700" y="1096"/></g>
<g id="A-a31"><use href="#q24" x="248" y="1160"/></g>
<g id="A-a32"><use href="#q24" x="1443" y="1144"/></g>
<g id="A-a33"><use href="#q28" x="1366" y="1250"/></g>
<g id="A-a34"><use href="#q28" x="1121" y="1282"/></g>
<g id="A-a35"><use href="#q24" x="195" y="1280"/></g>
<g id="A-a36"><use href="#q24" x="115" y="1307"/></g>
<g id="A-a37"><use href="#q24" x="564" y="1353"/></g>
<g id="A-a38"><use href="#q28" x="845" y="1337"/></g>
<g id="A-a39"><use href="#q24" x="939" y="1318"/></g>
<g id="A-a40"><use href="#q28" x="605" y="1441"/></g>
<g id="A-a41"><use href="#q24" x="982" y="1411"/></g>
<g id="A-a42"><use href="#q24" x="1262" y="1370"/></g>
<g id="A-a43"><use href="#q24" x="1354" y="1410"/></g>
<g id="A-a44"><use href="#q24" x="442" y="1503"/></g>
<g id="A-a45"><use href="#q24" x="1047" y="1507"/></g>
<g id="A-a46"><use href="#q24" x="579" y="1546"/></g>

<g id="A-r1"><circle class="rc" cx="801" cy="304" r="14"/></g>
<g id="A-r2"><circle class="rc" cx="519" cy="369" r="14"/></g>
<g id="A-r3"><circle class="rc" cx="721" cy="506" r="18"/></g>
<g id="A-r4"><circle class="rc" cx="887" cy="491" r="18"/></g>
<g id="A-r5"><circle class="rc" cx="975" cy="414" r="15"/></g>
<g id="A-r6"><circle class="rc" cx="1032" cy="526" r="16"/></g>
<g id="A-r7"><circle class="rc" cx="987" cy="592" r="18"/></g>
<g id="A-r8"><circle class="rc" cx="441" cy="638" r="16"/></g>
<g id="A-r9"><circle class="rc" cx="531" cy="665" r="19"/></g>
<g id="A-r10"><circle class="rc" cx="1217" cy="668" r="18"/></g>
<g id="A-r11"><circle class="rc" cx="821" cy="688" r="14"/></g>
<g id="A-r12"><circle class="rc" cx="442" cy="737" r="20"/></g>
<g id="A-r13"><circle class="rc" cx="510" cy="776" r="14"/></g>
<g id="A-r14"><circle class="rc" cx="1492" cy="768" r="14"/></g>
<g id="A-r15"><circle class="rc" cx="258" cy="855" r="14"/></g>
<g id="A-r16"><circle class="rc" cx="475" cy="853" r="14"/></g>
<g id="A-r17"><circle class="rc" cx="652" cy="888" r="15"/></g>
<g id="A-r18"><circle class="rc" cx="857" cy="878" r="16"/></g>
<g id="A-r19"><circle class="rc" cx="1272" cy="886" r="14"/></g>
<g id="A-r20"><circle class="rc" cx="1036" cy="901" r="16"/></g>
<g id="A-r21"><circle class="rc" cx="1092" cy="943" r="14"/></g>
<g id="A-r22"><circle class="rc" cx="1151" cy="964" r="14"/></g>
<g id="A-r23"><circle class="rc" cx="460" cy="1056" r="14"/></g>
<g id="A-r24"><circle class="rc" cx="816" cy="1079" r="17"/></g>
<g id="A-r25"><circle class="rc" cx="1010" cy="1132" r="21"/></g>
<g id="A-r26"><circle class="rc" cx="1140" cy="1123" r="14"/></g>
<g id="A-r27"><circle class="rc" cx="395" cy="1250" r="18"/></g>
<g id="A-r28"><circle class="rc" cx="634" cy="1257" r="15"/></g>
<g id="A-r29"><circle class="rc" cx="919" cy="1234" r="15"/></g>
<g id="A-r30"><circle class="rc" cx="789" cy="1289" r="15"/></g>
<g id="A-r31"><circle class="rc" cx="666" cy="1353" r="17"/></g>
<g id="A-r32"><circle class="rc" cx="1439" cy="1314" r="13"/></g>
<g id="A-r33"><circle class="rc" cx="306" cy="1398" r="16"/></g>
<g id="A-r34"><circle class="rc" cx="1155" cy="1468" r="14"/></g>

<g id="A-b1"><circle class="bc" cx="832" cy="204" r="22"/></g>
<g id="A-b2"><circle class="bc" cx="701" cy="357" r="21"/></g>
<g id="A-b3"><circle class="bc" cx="1599" cy="1098" r="22"/></g>
<g id="A-b4"><circle class="bc" cx="1460" cy="1227" r="21"/></g>
<g id="A-b5"><circle class="bc yr" cx="506" cy="1224" r="15"/></g>

<g id="A-mir-93-5p"><use href="#q40" x="624" y="639"/><text class="la" x="663" y="652">hsa-mir-93-5p</text></g>
<g id="A-mir-335-5p"><use href="#q40" x="732" y="764"/><text class="la" x="770" y="775">hsa-mir-335-5p</text></g>
<g id="A-mir-16-5p"><use href="#q46" x="810" y="848"/><text class="la" x="849" y="860">hsa-mir-16-5p</text></g>
<g id="A-mir-98-5p"><use href="#q36" x="308" y="892"/><text class="la" x="342" y="904">hsa-mir-98-5p</text></g>
<g id="A-mir-8485"><use href="#q36" x="360" y="966"/><text class="la" x="395" y="978">hsa-mir-8485</text></g>
<g id="A-mir-5011-5p"><use href="#q46" x="702" y="1212"/><text class="la" x="740" y="1225">hsa-mir-5011-5p</text></g>

<g id="A-GLI3"><circle class="bc yr" cx="1110" cy="384" r="27"/><text class="la" x="1155" y="397">GLI3</text></g>
<g id="A-GAS1"><circle class="bc" cx="1062" cy="577" r="23"/><text class="la" x="1095" y="590">GAS1</text></g>
<g id="A-WNT10B"><circle class="bc yr" cx="274" cy="678" r="29"/><text class="la" x="319" y="692">WNT10B</text></g>
<g id="A-GLI1"><circle class="bc yr" cx="1290" cy="697" r="32"/><text class="la" x="1336" y="710">GLI1</text></g>
<g id="A-BCL2"><circle class="bc yr" cx="575" cy="802" r="17"/><text class="la" x="608" y="815">BCL2</text></g>
<g id="A-IL6"><circle class="bc yr" cx="1154" cy="876" r="18"/><text class="la" x="1188" y="889">IL6</text></g>
<g id="A-BMP2"><circle class="bc yr" cx="719" cy="964" r="33"/><text class="la" x="765" y="977">BMP2</text></g>
<g id="A-AR"><circle class="bc yr" cx="960" cy="997" r="21"/><text class="la" x="996" y="1011">AR</text></g>
<g id="A-PRKX"><circle class="bc" cx="1220" cy="1007" r="23"/><text class="la" x="1254" y="1020">PRKX</text></g>
<g id="A-HHIP"><circle class="bc yr" cx="525" cy="1114" r="31"/><text class="la" x="572" y="1127">HHIP</text></g>
<g id="A-BMP5"><circle class="bc" cx="139" cy="1144" r="23"/><text class="la" x="173" y="1157">BMP5</text></g>
<g id="A-IGF1"><circle class="bc yr" cx="1090" cy="1192" r="22"/><text class="la" x="1125" y="1205">IGF1</text></g>
<g id="A-WNT4"><circle class="bc yr" cx="804" cy="1406" r="30"/><text class="la" x="847" y="1419">WNT4</text></g>
<g id="A-WNT11"><circle class="bc yr" cx="802" cy="1514" r="27"/><text class="la" x="845" y="1527">WNT11</text></g>
<g id="A-PTCH2"><circle class="bc yr" cx="418" cy="1594" r="28"/><text class="la" x="463" y="1608">PTCH2</text></g>
</g>

<g id="nodes-B">
<g id="B-c1"><use href="#q24" x="2925" y="184"/></g>
<g id="B-c2"><use href="#q24" x="2456" y="339"/></g>
<g id="B-c3"><use href="#q24" x="2838" y="357"/></g>
<g id="B-c4"><use href="#q24" x="2380" y="401"/></g>
<g id="B-c5"><use href="#q24" x="2574" y="417"/></g>
<g id="B-c6"><use href="#q24" x="2106" y="509"/></g>
<g id="B-c7"><use href="#q24" x="2158" y="518"/></g>
<g id="B-c8"><use href="#q24" x="2702" y="506"/></g>
<g id="B-c9"><use href="#q24" x="2852" y="563"/></g>
<g id="B-c10"><use href="#q24" x="2357" y="610"/></g>
<g id="B-c11"><use href="#q24" x="2634" y="601"/></g>
<g id="B-c12"><use href="#q24" x="2766" y="614"/></g>
<g id="B-c13"><use href="#q24" x="3025" y="664"/></g>
<g id="B-c14"><use href="#q24" x="2877" y="696"/></g>
<g id="B-c15"><use href="#q24" x="3093" y="721"/></g>
<g id="B-c16"><use href="#q24" x="2423" y="787"/></g>
<g id="B-c17"><use href="#q24" x="3354" y="795"/></g>
<g id="B-c18"><use href="#q24" x="2057" y="860"/></g>
<g id="B-c19"><use href="#q32" x="2311" y="872"/></g>
<g id="B-c20"><use href="#q32" x="2724" y="878"/></g>
<g id="B-c21"><use href="#q24" x="2878" y="849"/></g>
<g id="B-c22"><use href="#q24" x="2790" y="906"/></g>
<g id="B-c23"><use href="#q24" x="2992" y="912"/></g>
<g id="B-c24"><use href="#q28" x="2659" y="944"/></g>
<g id="B-c25"><use href="#q24" x="3096" y="979"/></g>
<g id="B-c26"><use href="#q24" x="1804" y="1058"/></g>
<g id="B-c27"><use href="#q24" x="2883" y="1071"/></g>
<g id="B-c28"><use href="#q28" x="2648" y="1097"/></g>
<g id="B-c29"><use href="#q28" x="2830" y="1114"/></g>
<g id="B-c30"><use href="#q24" x="3307" y="1130"/></g>
<g id="B-c31"><use href="#q32" x="2311" y="1160"/></g>
<g id="B-c32"><use href="#q24" x="1839" y="1195"/></g>
<g id="B-c33"><use href="#q28" x="2133" y="1190"/></g>
<g id="B-c34"><use href="#q28" x="2816" y="1197"/></g>
<g id="B-c35"><use href="#q24" x="3160" y="1200"/></g>
<g id="B-c36"><use href="#q32" x="2400" y="1230"/></g>
<g id="B-c37"><use href="#q24" x="2976" y="1238"/></g>
<g id="B-c38"><use href="#q28" x="2635" y="1257"/></g>
<g id="B-c39"><use href="#q28" x="2764" y="1263"/></g>
<g id="B-c40"><use href="#q24" x="3338" y="1280"/></g>
<g id="B-c41"><use href="#q24" x="2035" y="1281"/></g>
<g id="B-c42"><use href="#q28" x="2483" y="1284"/></g>
<g id="B-c43"><use href="#q32" x="2329" y="1426"/></g>
<g id="B-c44"><use href="#q24" x="2483" y="1420"/></g>
<g id="B-c45"><use href="#q24" x="2558" y="1418"/></g>
<g id="B-c46"><use href="#q28" x="2888" y="1418"/></g>
<g id="B-c47"><use href="#q28" x="3011" y="1429"/></g>
<g id="B-c48"><use href="#q28" x="2089" y="1495"/></g>
<g id="B-c49"><use href="#q28" x="2778" y="1492"/></g>
<g id="B-c50"><use href="#q24" x="2880" y="1527"/></g>
<g id="B-c51"><use href="#q24" x="2361" y="1584"/></g>
<g id="B-c52"><use href="#q24" x="2808" y="1576"/></g>
<g id="B-c53"><use href="#q24" x="2303" y="1620"/></g>

<g id="B-s1"><circle class="rc" cx="2029" cy="324" r="16"/></g>
<g id="B-s2"><circle class="rc" cx="2253" cy="346" r="17"/></g>
<g id="B-s3"><circle class="rc" cx="1844" cy="542" r="16"/></g>
<g id="B-s4"><circle class="rc" cx="2433" cy="573" r="16"/></g>
<g id="B-s5"><circle class="rc" cx="1767" cy="774" r="16"/></g>
<g id="B-s6"><circle class="rc" cx="2097" cy="911" r="19"/></g>
<g id="B-s7"><circle class="rc" cx="2198" cy="1066" r="19"/></g>
<g id="B-s8"><circle class="rc" cx="1966" cy="1106" r="19"/></g>
<g id="B-s9"><circle class="rc" cx="2081" cy="1124" r="19"/></g>
<g id="B-s10"><circle class="rc" cx="2548" cy="1175" r="20"/></g>
<g id="B-s11"><circle class="rc" cx="2630" cy="1190" r="20"/></g>
<g id="B-s12"><circle class="rc" cx="2878" cy="939" r="20"/></g>
<g id="B-s13"><circle class="rc" cx="2461" cy="1503" r="19"/></g>

<g id="B-mir-26b-5p"><use href="#q40" x="2102" y="666"/><text class="lb" x="2139" y="678">hsa-mir-26b-5p</text></g>
<g id="B-mir-335-5p"><use href="#q46" x="2021" y="774"/><text class="lb" x="2064" y="787">hsa-mir-335-5p</text></g>
<g id="B-mir-17-5p"><use href="#q36" x="2688" y="705"/><text class="lb" x="2721" y="718">hsa-mir-17-5p</text></g>
<g id="B-mir-16-5p"><use href="#q40" x="2357" y="946"/><text class="lb" x="2395" y="959">hsa-mir-16-5p</text></g>
<g id="B-let-7a-5p"><use href="#q40" x="2589" y="994"/><text class="lb" x="2626" y="1007">hsa-let-7a-5p</text></g>

<g id="B-SDC1"><circle class="bc yr" cx="2591" cy="268" r="22"/><text class="lb" x="2631" y="282">SDC1</text></g>
<g id="B-PMAIP1"><circle class="bc" cx="2479" cy="503" r="26"/><text class="lb" x="2516" y="517">PMAIP1</text></g>
<g id="B-IGFBP3"><circle class="bc" cx="3057" cy="535" r="26"/><text class="lb" x="3096" y="549">IGFBP3</text></g>
<g id="B-SDC3"><circle class="bc yr" cx="1990" cy="634" r="19"/><text class="lb" x="2028" y="647">SDC3</text></g>
<g id="B-CDKN1A"><circle class="bc" cx="2511" cy="656" r="39"/><text class="lb" x="2560" y="671">CDKN1A</text></g>
<g id="B-DDB2"><circle class="bc" cx="1898" cy="710" r="24"/><text class="lb" x="1934" y="724">DDB2</text></g>
<g id="B-CCND2"><circle class="rc" cx="2542" cy="744" r="31"/><text class="lb" x="2585" y="758">CCND2</text></g>
<g id="B-ZMAT3"><circle class="bc" cx="2927" cy="742" r="28"/><text class="lb" x="2967" y="757">ZMAT3</text></g>
<g id="B-CCND1"><circle class="rc" cx="2642" cy="830" r="36"/><text class="lb" x="2689" y="845">CCND1</text></g>
<g id="B-RRM2"><circle class="bc" cx="2386" cy="852" r="32"/><text class="lb" x="2431" y="867">RRM2</text></g>
<g id="B-SERPINB5"><circle class="bc" cx="2022" cy="977" r="26"/><text class="lb" x="2060" y="990">SERPINB5</text></g>
<g id="B-ITGA3"><circle class="rc" cx="2208" cy="1013" r="25"/><text class="lb" x="2245" y="1025">ITGA3</text></g>
<g id="B-SCD"><circle class="rc" cx="2472" cy="1036" r="31"/><text class="lb" x="2512" y="1049">SCD</text></g>
<g id="B-BBC3"><circle class="bc" cx="3039" cy="1034" r="35"/><text class="lb" x="3084" y="1049">BBC3</text></g>
<g id="B-TNFRSF10B"><circle class="bc" cx="2395" cy="1130" r="30"/><text class="lb" x="2438" y="1143">TNFRSF10B</text></g>
<g id="B-AGRN"><circle class="bc yr" cx="2096" cy="1280" r="19"/><text class="lb" x="2132" y="1293">AGRN</text></g>
<g id="B-CD44"><circle class="bc yr" cx="2322" cy="1324" r="28"/><text class="lb" x="2366" y="1339">CD44</text></g>
<g id="B-PERP"><circle class="bc" cx="3068" cy="1331" r="28"/><text class="lb" x="3107" y="1344">PERP</text></g>
<g id="B-SDC4"><circle class="bc yr" cx="2719" cy="1385" r="28"/><text class="lb" x="2764" y="1399">SDC4</text></g>
<g id="B-SFN"><circle class="bc" cx="2568" cy="1559" r="31"/><text class="lb" x="2610" y="1572">SFN</text></g>
</g>
</svg>
